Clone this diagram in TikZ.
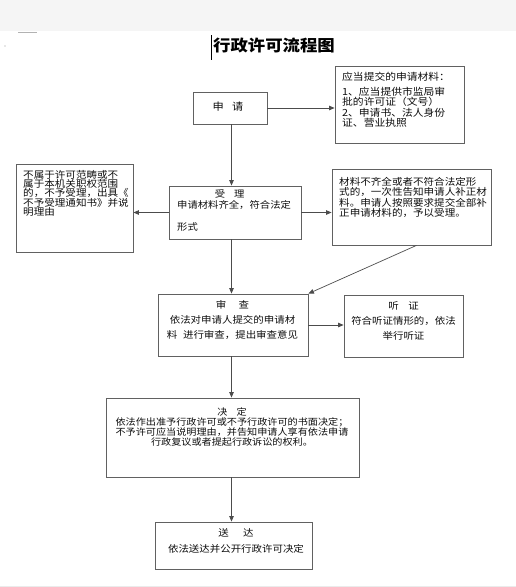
\documentclass[tikz,border=0pt]{standalone}
\usepackage{fontspec}
\setmainfont[FakeStretch=1.1]{Noto Sans CJK SC}
\usetikzlibrary{arrows.meta}

\begin{document}
\begin{tikzpicture}[x=1pt, y=-1pt,
  box/.style={draw=black!62, line width=0.8pt, inner sep=0pt},
  flow/.style={draw=black!70, line width=0.7pt, -{Triangle[length=5.5pt, width=4.5pt]}},
  txt/.style={inner sep=0pt, text=black!95}]
  \useasboundingbox (0,0) rectangle (516,587);
  % page band and marks
  \fill[black!4] (0,0) rectangle (516,31);
  \draw[black!30, line width=1pt] (18,32) -- (37,32);
  \fill[black!40] (5,46) circle (0.6);
  \draw[black!8, line width=1pt] (0,586) -- (516,586);
  \draw[black, line width=0.8pt] (211,35) -- (211,60);
  \node[txt, text=black, font=\fontsize{15.8}{16}\selectfont\bfseries] (title) at (274,45) {行政许可流程图};
  % boxes
  \node[box, minimum width=74pt, minimum height=32pt] (shenqing) at (230,108) {};
  \node[box, minimum width=129pt, minimum height=77pt] (cailiao) at (399.5,104.5) {};
  \node[box, minimum width=132pt, minimum height=53pt] (shouli) at (235,212.5) {};
  \node[box, minimum width=117pt, minimum height=88pt] (buyu) at (74.5,208) {};
  \node[box, minimum width=159pt, minimum height=76pt] (buzheng) at (411.5,207) {};
  \node[box, minimum width=150pt, minimum height=62pt] (shencha) at (233,325) {};
  \node[box, minimum width=119pt, minimum height=62pt] (tingzheng) at (403.5,326) {};
  \node[box, minimum width=253pt, minimum height=79pt] (jueding) at (232.5,437.5) {};
  \node[box, minimum width=157pt, minimum height=47pt] (songda) at (233.5,545.5) {};
  % texts
  \node[txt, font=\fontsize{10.2}{10}\selectfont] (shenqing-t) at (228,107) {申\hspace{0.8em}请};
  \node[txt, anchor=west, align=left, font=\fontsize{9.8}{10.5}\selectfont] (cailiao-t) at (342,100)
    {应当提交的申请材料：\\[4.5pt]1、应当提供市监局审\\批的许可证（文号）\\2、申请书、法人身份\\证、营业执照};
  \node[txt, anchor=west, align=left, font=\fontsize{9.4}{11}\selectfont] (shouli-t) at (177,210.5)
    {\hspace*{4em}受\hspace{0.95em}理\\申请材料齐全，符合法定\\[11pt]形式};
  \node[txt, anchor=west, align=left, font=\fontsize{9.6}{9.3}\selectfont] (buyu-t) at (23,193.3)
    {不属于许可范畴或不\\属于本机关职权范围\\的，不予受理，出具《\\不予受理通知书》并说\\明理由};
  \node[txt, anchor=west, align=left, font=\fontsize{9.6}{10.5}\selectfont] (buzheng-t) at (339,197.5)
    {材料不齐全或者不符合法定形\\式的，一次性告知申请人补正材\\料。申请人按照要求提交全部补\\正申请材料的，予以受理。};
  \node[txt, align=center, font=\fontsize{9.5}{15}\selectfont] (shencha-t) at (232.5,320)
    {审\hspace{1.3em}查\\依法对申请人提交的申请材\\料\hspace{0.6em}进行审查，提出审查意见};
  \node[txt, align=center, font=\fontsize{9.5}{15}\selectfont] (tingzheng-t) at (403.5,320.5)
    {听\hspace{1em}证\\符合听证情形的，依法\\举行听证};
  \node[txt, align=center, font=\fontsize{9.2}{10}\selectfont] (jueding-t) at (232,426.7)
    {决\hspace{1em}定\\依法作出准予行政许可或不予行政许可的书面决定；\\不予许可应当说明理由，并告知申请人享有依法申请\\行政复议或者提起行政诉讼的权利。};
  \node[txt, align=center, font=\fontsize{9.5}{16}\selectfont] (songda-t) at (236,541)
    {送\hspace{1.5em}达\\依法送达并公开行政许可决定};
  % connectors
  \coordinate (col) at (231.5,0);
  \draw[flow] (shenqing.east) -- (shenqing.east -| cailiao.west);
  \draw[flow] (shenqing.south -| col) -- (shouli.north -| col);
  \draw[flow] (shouli.west) -- (shouli.west -| buyu.east);
  \draw[flow] (shouli.east) -- (shouli.east -| buzheng.west);
  \draw[flow] (shouli.south -| col) -- (shencha.north -| col);
  \draw[flow] ([xshift=5pt]buzheng.south) -- (shencha.north east);
  \draw[flow] (shencha.east) -- (shencha.east -| tingzheng.west);
  \draw[flow] (shencha.south -| col) -- (jueding.north -| col);
  \draw[flow] (jueding.south -| col) -- (songda.north -| col);
\end{tikzpicture}
\end{document}
